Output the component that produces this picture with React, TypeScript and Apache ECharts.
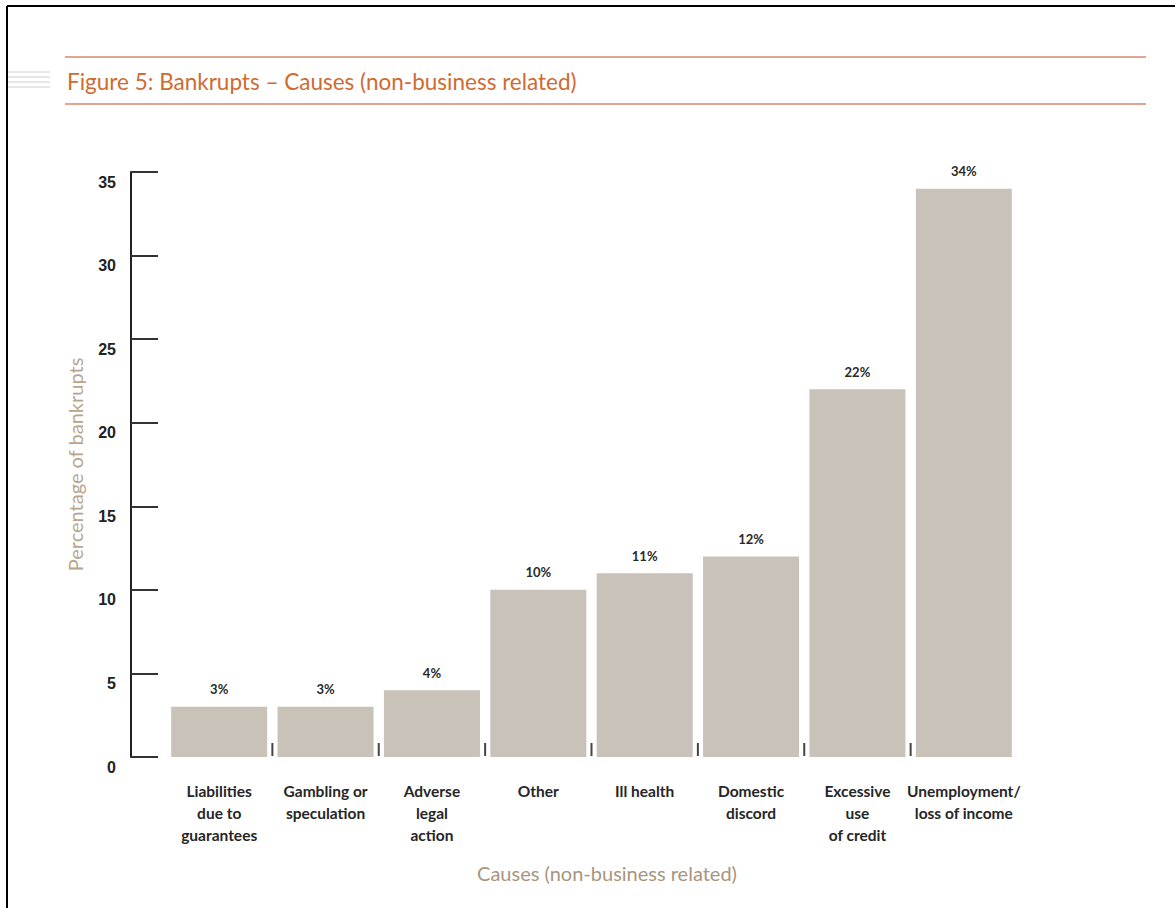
import React, { useEffect, useRef } from "react";
import * as echarts from "echarts";

const categories = [
  "Liabilities\ndue to\nguarantees",
  "Gambling or\nspeculation",
  "Adverse\nlegal\naction",
  "Other",
  "Ill health",
  "Domestic\ndiscord",
  "Excessive\nuse\nof credit",
  "Unemployment/\nloss of income",
];
const values = [3, 3, 4, 10, 11, 12, 22, 34];
const boundaryIdx = [1, 2, 3, 4, 5, 6, 7];

const FONT = "Lato, 'Noto Sans', sans-serif";

export default function App() {
  const ref = useRef<HTMLDivElement>(null);
  useEffect(() => {
    if (!ref.current) return;
    const chart = echarts.init(ref.current, null, { renderer: "svg" });
    chart.setOption({
      animation: false,
      backgroundColor: "#ffffff",
      grid: { left: 166, right: 158, top: 172, bottom: 151 },
      xAxis: {
        type: "category",
        data: categories,
        axisLine: { show: false },
        axisTick: { show: false },
        axisLabel: {
          interval: 0,
          margin: 23,
          color: "#262626",
          fontFamily: FONT,
          fontWeight: "bold",
          fontSize: 15.5,
          lineHeight: 22,
          align: "center",
        },
      },
      yAxis: {
        type: "value",
        min: 0,
        max: 35,
        interval: 5,
        offset: 35,
        name: "Percentage of bankrupts",
        nameLocation: "middle",
        nameGap: 46,
        nameTextStyle: { color: "#b9a58d", fontFamily: FONT, fontSize: 20 },
        axisLine: { show: true, lineStyle: { color: "#222", width: 2 } },
        axisTick: { show: true, inside: true, length: 27, lineStyle: { color: "#333", width: 2 } },
        splitLine: { show: false },
        axisLabel: {
          margin: 15,
          color: "#222",
          fontFamily: "'Liberation Sans', Arial, sans-serif",
          fontWeight: "bold",
          fontSize: 16,
          verticalAlign: "top",
          padding: [2, 0, 0, 0],
        },
      },
      series: [
        {
          type: "bar",
          data: values,
          barWidth: 96,
          itemStyle: { color: "#c9c2b8" },
          label: {
            show: true,
            position: "top",
            distance: 11,
            formatter: "{c}%",
            color: "#2a2a2a",
            fontFamily: FONT,
            fontWeight: "bold",
            fontSize: 13,
          },
        },
        {
          type: "custom",
          data: boundaryIdx.map((i) => [i, 0]),
          silent: true,
          renderItem: (params: any, api: any) => {
            const idx = api.value(0);
            const p = api.coord([idx, 0]);
            const band = api.size([1, 0])[0];
            const x = p[0] - band / 2;
            return {
              type: "line",
              shape: { x1: x, y1: p[1] - 14, x2: x, y2: p[1] - 1 },
              style: { stroke: "#444", lineWidth: 2 },
            };
          },
        },
      ],
      graphic: [
        { type: "line", shape: { x1: 7, y1: 6, x2: 1175, y2: 6 }, style: { stroke: "#000", lineWidth: 2 } },
        { type: "line", shape: { x1: 7, y1: 6, x2: 7, y2: 908 }, style: { stroke: "#000", lineWidth: 2 } },
        { type: "line", shape: { x1: 65, y1: 57, x2: 1146, y2: 57 }, style: { stroke: "#e2a594", lineWidth: 2 } },
        { type: "line", shape: { x1: 65, y1: 104, x2: 1146, y2: 104 }, style: { stroke: "#e2a594", lineWidth: 2 } },
        { type: "line", shape: { x1: 8, y1: 72, x2: 50, y2: 72 }, style: { stroke: "#d0d0d0", lineWidth: 1 } },
        { type: "line", shape: { x1: 8, y1: 77, x2: 50, y2: 77 }, style: { stroke: "#d0d0d0", lineWidth: 1 } },
        { type: "line", shape: { x1: 8, y1: 82, x2: 50, y2: 82 }, style: { stroke: "#d0d0d0", lineWidth: 1 } },
        { type: "line", shape: { x1: 8, y1: 87, x2: 50, y2: 87 }, style: { stroke: "#d0d0d0", lineWidth: 1 } },
        {
          type: "text",
          x: 67,
          y: 81,
          style: {
            text: "Figure 5: Bankrupts \u2013 Causes (non-business related)",
            fill: "#cf6b30",
            font: `22.5px ${FONT}`,
            textVerticalAlign: "middle",
          },
        },
        {
          type: "text",
          x: 607,
          y: 873,
          style: {
            text: "Causes (non-business related)",
            fill: "#a8957d",
            font: `20px ${FONT}`,
            textAlign: "center",
            textVerticalAlign: "middle",
          },
        },
      ],
    });
    return () => chart.dispose();
  }, []);
  return (
    <div
      ref={ref}
      style={{ position: "fixed", left: 0, top: 0, width: 1175, height: 908 }}
    />
  );
}
